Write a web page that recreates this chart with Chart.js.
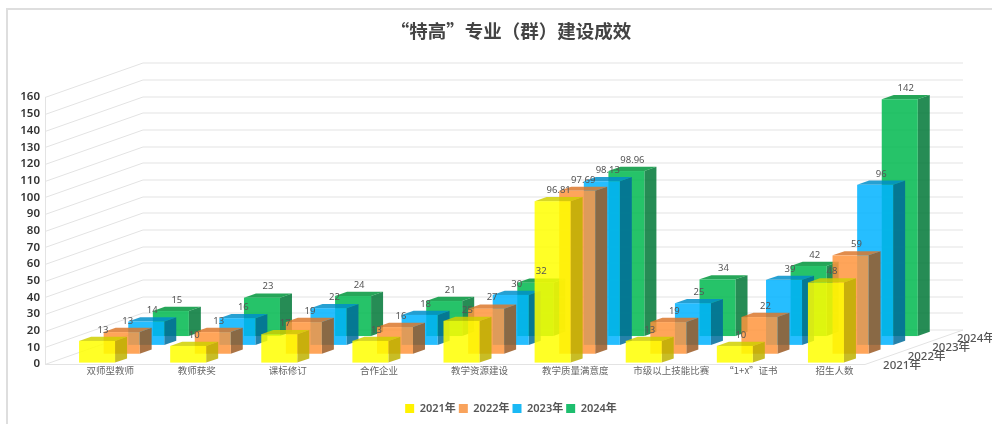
<!DOCTYPE html>
<html>
<head>
<meta charset="utf-8">
<script src="https://cdn.jsdelivr.net/npm/chart.js"></script>
<style>
  html, body { margin: 0; background: #fff; overflow: hidden; width: 992px; height: 424px; }
  #card { position: absolute; left: 6px; top: 8px; width: 1100px; height: 500px; border: 2px solid #dedede; }
  #myChart { position: absolute; left: 0; top: 0; filter: blur(0.35px); }
</style>
</head>
<body>
<div id="card"></div>
<canvas id="myChart" width="1022" height="424"></canvas>
<script>
const categories = ['双师型教师', '教师获奖', '课标修订', '合作企业', '教学资源建设', '教学质量满意度', '市级以上技能比赛', '“1+x”证书', '招生人数'];
const years = ['2021年', '2022年', '2023年', '2024年'];
const v2021 = [13, 10, 17, 13, 25, 96.81, 13, 10, 48];
const v2022 = [13, 13, 19, 16, 27, 97.69, 19, 22, 59];
const v2023 = [14, 16, 22, 18, 30, 98.13, 25, 39, 96];
const v2024 = [15, 23, 24, 21, 32, 98.96, 34, 42, 142];

const frontColors = ['rgba(255,255,0,.85)', 'rgba(255,149,61,.85)', 'rgba(0,179,255,.85)', 'rgba(0,185,79,.85)'];
const sideColors = ['rgba(190,178,0,.85)', 'rgba(155,90,37,.85)', 'rgba(0,108,155,.85)', 'rgba(0,120,55,.85)'];
const topColors = ['rgba(208,208,0,.85)', 'rgba(220,120,45,.85)', 'rgba(0,143,202,.85)', 'rgba(0,150,60,.85)'];
const legendColors = ['#fff200', '#f9a35c', '#1ab9f5', '#1dbe6e'];

// fake 3d: depth of the whole floor, one row, and one bar
const floorDx = 98, floorDy = -34.5;
const rowDx = 24.6, rowDy = -8.85;
const barDx = 12, barDy = -4.2;
const startX = 10.5, startY = -1.4;
const tickShift = 4; // x labels start a bit left of the category centre

const font = '"Noto Sans", "Noto Sans CJK SC", sans-serif';
const cjkFont = '"Noto Sans CJK SC", sans-serif';

const bar3d = {
  id: 'bar3d',
  beforeDatasetsDraw(chart) {
    // floor and walls
    const { ctx, chartArea } = chart;
    const y = chart.scales.y;
    const left = chartArea.left + tickShift, right = chartArea.right + tickShift;
    ctx.save();
    ctx.strokeStyle = '#e3e3e3';
    ctx.lineWidth = 1;
    y.ticks.forEach((t) => {
      const py = Math.round(y.getPixelForValue(t.value)) + 0.5;
      ctx.beginPath();
      ctx.moveTo(left, py);
      ctx.lineTo(left + floorDx, py + floorDy);
      ctx.lineTo(right + floorDx, py + floorDy);
      ctx.stroke();
    });
    const y0 = Math.round(y.getPixelForValue(0)) + 0.5;
    ctx.beginPath();
    ctx.moveTo(left + 0.5, Math.round(y.getPixelForValue(160)));
    ctx.lineTo(left + 0.5, y0);
    ctx.lineTo(right, y0);
    ctx.lineTo(right + floorDx, y0 + floorDy);
    ctx.stroke();
    ctx.restore();
  },
  beforeDatasetDraw(chart, args) {
    const { ctx } = chart;
    const i = args.index;
    const ox = startX + rowDx * i;
    const oy = startY + rowDy * i;
    ctx.save();
    args.meta.data.forEach((bar) => {
      const x0 = bar.x - bar.width / 2 + ox, x1 = x0 + bar.width;
      const top = bar.y + oy, base = bar.base + oy;
      ctx.fillStyle = sideColors[i];
      ctx.beginPath();
      ctx.moveTo(x1, top);
      ctx.lineTo(x1 + barDx, top + barDy);
      ctx.lineTo(x1 + barDx, base + barDy);
      ctx.lineTo(x1, base);
      ctx.fill();
      ctx.fillStyle = topColors[i];
      ctx.beginPath();
      ctx.moveTo(x0, top);
      ctx.lineTo(x0 + barDx, top + barDy);
      ctx.lineTo(x1 + barDx, top + barDy);
      ctx.lineTo(x1, top);
      ctx.fill();
      ctx.fillStyle = frontColors[i];
      ctx.fillRect(x0, top, bar.width, base - top);
    });
    ctx.restore();
    return false; // native flat bar not wanted
  },
  afterDatasetsDraw(chart) {
    const { ctx, chartArea } = chart;
    const y = chart.scales.y;
    ctx.save();
    ctx.textAlign = 'center';
    ctx.textBaseline = 'middle';
    // value labels
    ctx.font = '9.5px ' + font;
    ctx.fillStyle = '#555';
    chart.data.datasets.forEach((ds, i) => {
      chart.getDatasetMeta(i).data.forEach((bar, j) => {
        const cx = bar.x + startX + rowDx * i + 6;
        const cy = bar.y + startY + rowDy * i - 11;
        ctx.fillText(String(ds.data[j]), cx, cy);
      });
    });
    // depth axis labels
    ctx.font = '500 11.5px ' + font;
    ctx.fillStyle = '#555';
    years.forEach((name, i) => {
      ctx.fillText(name, chartArea.right + tickShift + 37 + 24.6 * i, y.getPixelForValue(0) + 1.5 - 8.9 * i);
    });
    ctx.restore();
  }
};

new Chart(document.getElementById('myChart'), {
  type: 'bar',
  data: {
    labels: categories,
    datasets: [
      { label: years[0], data: v2021, backgroundColor: legendColors[0] },
      { label: years[1], data: v2022, backgroundColor: legendColors[1] },
      { label: years[2], data: v2023, backgroundColor: legendColors[2] },
      { label: years[3], data: v2024, backgroundColor: legendColors[3] }
    ]
  },
  options: {
    responsive: false,
    animation: false,
    grouped: false,
    categoryPercentage: 1,
    barPercentage: 36 / 91.1,
    layout: { padding: 0 },
    plugins: {
      title: {
        display: true,
        text: '“特高”专业（群）建设成效',
        color: '#444',
        font: { family: cjkFont, size: 18.5, weight: 'bold' },
        padding: { top: 20, bottom: 55 }
      },
      legend: {
        position: 'bottom',
        labels: {
          boxWidth: 9,
          boxHeight: 9,
          padding: 3,
          color: '#555',
          font: { family: font, size: 11, weight: '600' }
        }
      },
      tooltip: { enabled: false }
    },
    scales: {
      x: {
        grid: { display: false, drawTicks: false },
        border: { display: false },
        ticks: {
          align: 'start',
          maxRotation: 0,
          autoSkip: false,
          padding: 1,
          color: '#666',
          font: { family: cjkFont, size: 9.5 }
        },
        afterFit(scale) { scale.height = 36; }
      },
      y: {
        min: 0,
        max: 160,
        grid: { display: false, drawTicks: false },
        border: { display: false },
        ticks: {
          stepSize: 10,
          autoSkip: false,
          padding: 1,
          color: '#333',
          font: { family: font, size: 11.5, weight: '600' }
        },
        afterFit(scale) { scale.width = 41; }
      },
      // empty axis, only keeps room on the right for the depth of the floor
      room: {
        position: 'right',
        grid: { display: false },
        border: { display: false },
        ticks: { display: false },
        afterFit(scale) { scale.width = 161; }
      }
    }
  },
  plugins: [bar3d]
});
</script>
</body>
</html>
